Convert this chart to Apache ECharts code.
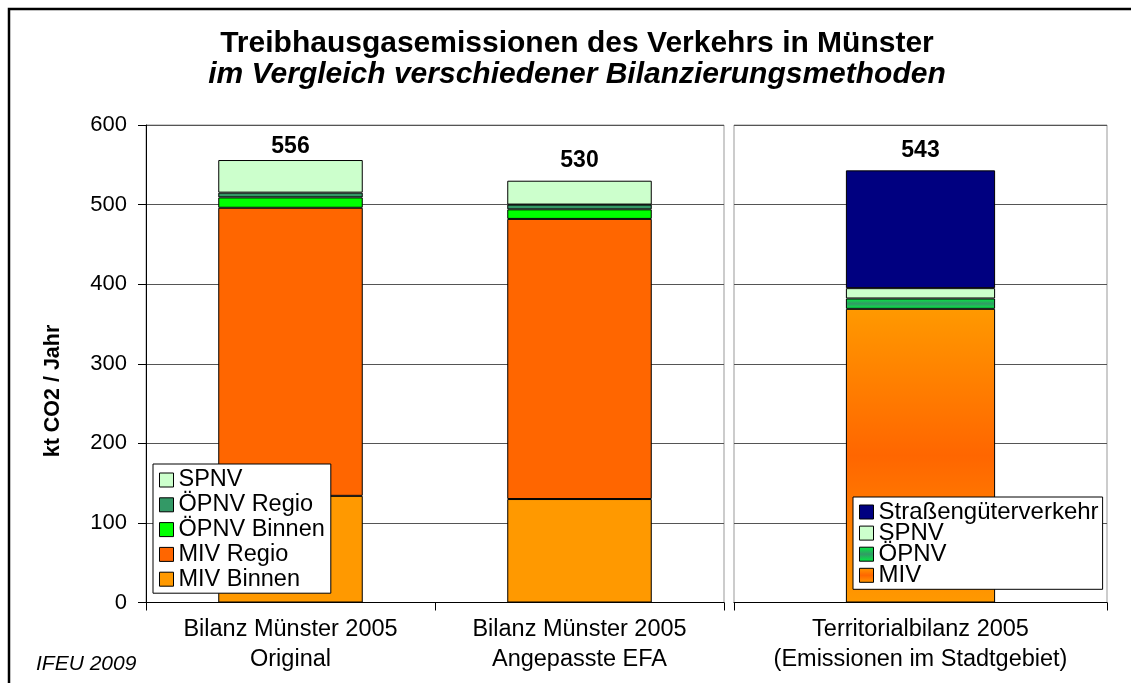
<!DOCTYPE html>
<html>
<head>
<meta charset="utf-8">
<script src="https://cdn.jsdelivr.net/npm/echarts@6/dist/echarts.min.js"></script>
<style>html,body{margin:0;padding:0;background:#fff}#c{width:1131px;height:683px}</style>
</head>
<body>
<div id="c"></div>
<script>
// ---- data ----
const categoriesLeft = ['Bilanz Münster 2005\nOriginal', 'Bilanz Münster 2005\nAngepasste EFA'];
const categoriesRight = ['Territorialbilanz 2005\n(Emissionen im Stadtgebiet)'];
const mivBinnen = [134, 130];
const mivRegio = [362, 352];
const oepnvBinnen = [13, 12];
const oepnvRegio = [6, 6];
const spnvLeft = [41, 30];
const terrMIV = [369];
const terrOEPNV = [13];
const terrSPNV = [13];
const terrSGV = [148];
const yMin = 0, yMax = 600, yStep = 100;

const FONT = 'Liberation Sans, Arial, sans-serif';
const totalsLeft = mivBinnen.map((v, i) => v + mivRegio[i] + oepnvBinnen[i] + oepnvRegio[i] + spnvLeft[i]);
const totalsRight = terrMIV.map((v, i) => v + terrOEPNV[i] + terrSPNV[i] + terrSGV[i]);
const labelGapLeft = [2, 9];
const labelGapRight = [8];

const border = { borderColor: '#000', borderWidth: 1 };
const mivGrad = { type: 'linear', x: 0, y: 0, x2: 0, y2: 1, colorStops: [
  { offset: 0, color: '#FF9900' }, { offset: 0.5, color: '#FF6600' }, { offset: 1, color: '#FF9900' }] };
const oepnvGrad = { type: 'linear', x: 0, y: 0, x2: 0, y2: 1, colorStops: [
  { offset: 0, color: '#00F040' }, { offset: 0.5, color: '#339966' }, { offset: 1, color: '#00F040' }] };

function barSeries(name, data, color, axis, stack, width) {
  return { name, type: 'bar', stack, xAxisIndex: axis, yAxisIndex: axis, data,
    barWidth: width, itemStyle: Object.assign({ color }, border), emphasis: { disabled: true } };
}
const topLabel = (totals) => ({ show: true, position: 'top', fontFamily: FONT, fontSize: 23, fontWeight: 'bold',
  color: '#000', formatter: p => String(totals[p.dataIndex]) });

const sLeft = [
  barSeries('MIV Binnen', mivBinnen, '#FF9900', 0, 'a', '50%'),
  barSeries('MIV Regio', mivRegio, '#FF6600', 0, 'a', '50%'),
  barSeries('ÖPNV Binnen', oepnvBinnen, '#00FF00', 0, 'a', '50%'),
  barSeries('ÖPNV Regio', oepnvRegio, '#339966', 0, 'a', '50%'),
  barSeries('SPNV', spnvLeft.map((v, i) => ({ value: v, label: { distance: labelGapLeft[i] } })), '#CCFFCC', 0, 'a', '50%')
];
sLeft[4].label = topLabel(totalsLeft);
const sRight = [
  barSeries('MIV', terrMIV, mivGrad, 1, 'b', '40%'),
  barSeries('ÖPNV', terrOEPNV, oepnvGrad, 1, 'b', '40%'),
  barSeries('SPNV', terrSPNV, '#CCFFCC', 1, 'b', '40%'),
  barSeries('Straßengüterverkehr', terrSGV.map((v, i) => ({ value: v, label: { distance: labelGapRight[i] } })), '#000080', 1, 'b', '40%')
];
sRight[3].label = topLabel(totalsRight);

const axisText = { fontFamily: FONT, color: '#000' };
function yAx(idx, showLabels) {
  return { type: 'value', gridIndex: idx, min: yMin, max: yMax, interval: yStep,
    axisLine: { show: showLabels, lineStyle: { color: '#000', width: 1 } },
    axisTick: { show: showLabels, length: 8, lineStyle: { color: '#000' } },
    axisLabel: Object.assign({ show: showLabels, fontSize: 22, margin: 19 }, axisText),
    splitLine: { show: true, lineStyle: { color: '#555', width: 1 } } };
}
function xAx(idx, cats) {
  return { type: 'category', gridIndex: idx, data: cats,
    axisLine: { show: true, lineStyle: { color: '#000', width: 1 } },
    axisTick: { show: true, length: 8, lineStyle: { color: '#000' } },
    axisLabel: Object.assign({ fontSize: 23.5, lineHeight: 30, margin: 12, interval: 0 }, axisText) };
}
const legendBase = { orient: 'vertical', selectedMode: false, icon: 'rect', itemWidth: 14, itemHeight: 14,
  backgroundColor: '#fff', borderColor: '#000', borderWidth: 1, borderRadius: 0,
  itemStyle: { borderColor: '#000', borderWidth: 1 } };

const option = {
  animation: false,
  backgroundColor: '#fff',
  grid: [
    { left: 146, top: 125, width: 578, bottom: 80.5, show: true, borderColor: '#999', borderWidth: 1, backgroundColor: 'transparent' },
    { left: 734, top: 125, width: 373, bottom: 80.5, show: true, borderColor: '#999', borderWidth: 1, backgroundColor: 'transparent' }
  ],
  xAxis: [xAx(0, categoriesLeft), xAx(1, categoriesRight)],
  yAxis: [yAx(0, true), yAx(1, false)],
  legend: [
    Object.assign({}, legendBase, { left: 153, top: 464, padding: [4, 6, 2, 6], itemGap: 0.8,
      data: ['SPNV', 'ÖPNV Regio', 'ÖPNV Binnen', 'MIV Regio', 'MIV Binnen'],
      textStyle: { fontFamily: FONT, fontSize: 23.5, color: '#000' } }),
    Object.assign({}, legendBase, { left: 853, top: 497, padding: [3, 4, 2, 6], itemGap: -2.9,
      data: ['Straßengüterverkehr', 'SPNV', 'ÖPNV', 'MIV'],
      textStyle: { fontFamily: FONT, fontSize: 24, color: '#000' } })
  ],
  graphic: [
    { type: 'rect', shape: { x: 9, y: 9, width: 1200, height: 800 }, style: { fill: 'none', stroke: '#000', lineWidth: 2.5 }, silent: true },
    { type: 'text', x: 577, y: 43.5,
      style: { text: 'Treibhausgasemissionen des Verkehrs in Münster', font: 'bold 30px ' + FONT, fill: '#000', textAlign: 'center', textVerticalAlign: 'middle' } },
    { type: 'text', x: 577, y: 75,
      style: { text: 'im Vergleich verschiedener Bilanzierungsmethoden', font: 'italic bold 30px ' + FONT, fill: '#000', textAlign: 'center', textVerticalAlign: 'middle' } },
    { type: 'text', x: 53.5, y: 391, rotation: Math.PI / 2,
      style: { text: 'kt CO2 / Jahr', font: 'bold 21.5px ' + FONT, fill: '#000', textAlign: 'center', textVerticalAlign: 'middle' } },
    { type: 'text', x: 36, y: 664,
      style: { text: 'IFEU 2009', font: 'italic 21px ' + FONT, fill: '#000', textAlign: 'left', textVerticalAlign: 'middle' } }
  ],
  series: sLeft.concat(sRight)
};
const chart = echarts.init(document.getElementById('c'), null, { renderer: 'canvas' });
chart.setOption(option);
</script>
</body>
</html>
